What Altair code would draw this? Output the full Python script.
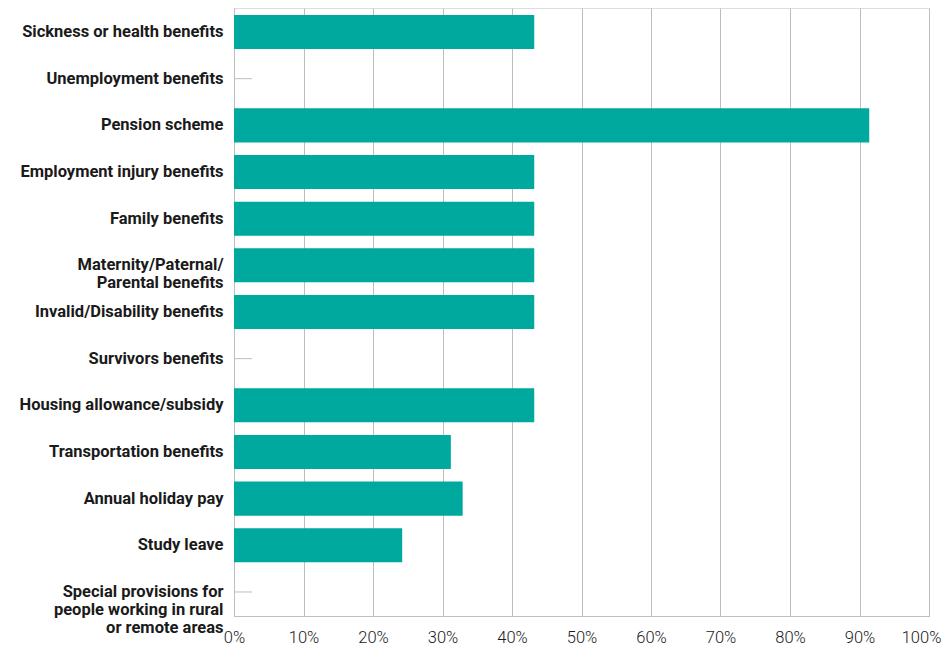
import altair as alt
import pandas as pd

categories = [
    "Sickness or health benefits",
    "Unemployment benefits",
    "Pension scheme",
    "Employment injury benefits",
    "Family benefits",
    "Maternity/Paternal/|Parental benefits",
    "Invalid/Disability benefits",
    "Survivors benefits",
    "Housing allowance/subsidy",
    "Transportation benefits",
    "Annual holiday pay",
    "Study leave",
    "Special provisions for|people working in rural|or remote areas",
]
values = [43.2, 0, 91.4, 43.2, 43.2, 43.2, 43.2, 0, 43.2, 31.2, 32.9, 24.2, 0]
x_ticks = [0, 10, 20, 30, 40, 50, 60, 70, 80, 90, 100]

df = pd.DataFrame({"category": categories, "value": values})

FONT = "Roboto"
GRID = "#bdbdbd"
BAR = "#00A99D"
TEXT = "#1a1a1a"

y_enc = alt.Y(
    "category:N",
    sort=categories,
    scale=alt.Scale(paddingInner=0.27, paddingOuter=0.15),
    axis=alt.Axis(
        title=None,
        labelExpr="split(datum.label, '|')",
        labelFont=FONT,
        labelFontWeight="bold",
        labelFontSize=16.5,
        labelColor=TEXT,
        labelLineHeight=18,
        labelPadding=11,
        labelAlign="right",
        labelLimit=0,
        ticks=False,
        domain=True,
        domainColor=GRID,
        domainWidth=1,
        grid=False,
    ),
)

x_enc = alt.X(
    "value:Q",
    scale=alt.Scale(domain=[0, 100], nice=False),
    axis=alt.Axis(
        title=None,
        values=x_ticks,
        labelExpr="datum.value + '%'",
        labelFont=FONT,
        labelFontWeight=300,
        labelFontSize=16.5,
        labelColor=TEXT,
        labelPadding=13,
        labelOffset={"condition": {"test": "datum.value == 100", "value": -8}, "value": 0},
        ticks=False,
        domain=True,
        domainColor=GRID,
        grid=True,
        gridColor=GRID,
        gridWidth=1,
        labelFlush=False,
    ),
)

ticks = alt.Chart(df).mark_rule(color=GRID, strokeWidth=1).encode(
    y=alt.Y("category:N", sort=categories),
    x=alt.value(0),
    x2=alt.value(18),
)

bars = alt.Chart(df).mark_bar(color=BAR).encode(
    y=y_enc,
    x=x_enc,
)

chart = (
    alt.layer(ticks, bars)
    .properties(
        width=695,
        height=608,
        padding={"left": 226, "top": 0, "right": 13, "bottom": 32},
        autosize=alt.AutoSizeParams(type="none"),
    )
    .configure_view(stroke=None)
    .configure(background="white")
)

chart.save("out.html", embed_options={"renderer": "svg", "actions": False})
